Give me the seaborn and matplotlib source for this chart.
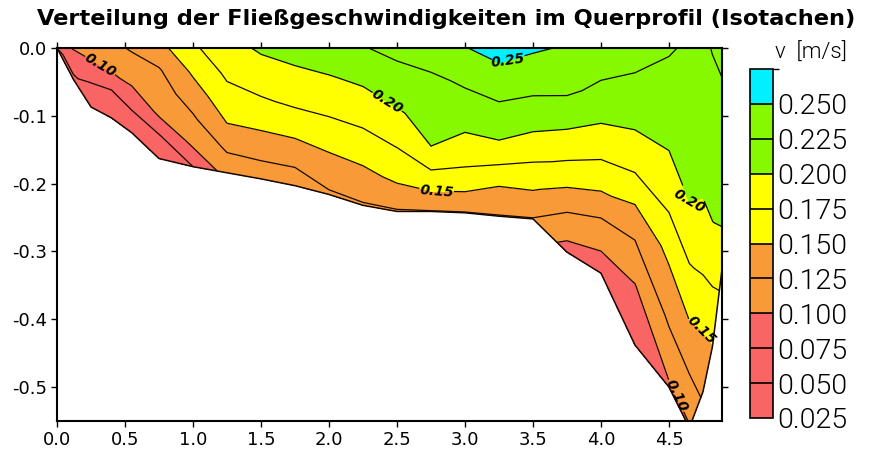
import numpy as np
import matplotlib
matplotlib.use("Agg")
import matplotlib.pyplot as plt
import seaborn as sns
from matplotlib.colors import ListedColormap, BoundaryNorm
from matplotlib.ticker import FixedLocator, FuncFormatter

# ---- data -----------------------------------------------------------------
# measuring verticals (distance from left bank, m) and water depth (m)
station_x = [0.0, 0.12, 0.25, 0.4, 0.55, 0.75, 1.0, 1.25, 1.5, 1.75, 2.0, 2.25,
             2.5, 2.75, 3.0, 3.25, 3.5, 3.75, 4.0, 4.25, 4.5, 4.65, 4.75, 4.82, 4.89]
station_depth = [0.0, 0.046, 0.087, 0.103, 0.125, 0.163, 0.175, 0.184, 0.193, 0.203,
                 0.216, 0.232, 0.241, 0.241, 0.243, 0.248, 0.252, 0.301, 0.332, 0.438,
                 0.50, 0.56, 0.507, 0.44, 0.326]
# relative depth of the measuring points (0 = surface, 1 = bed)
rel_depth = [0.0, 0.2, 0.4, 0.6, 0.8, 1.0]
# velocities (m/s) at each relative depth, one value per vertical
v_d00 = [0.085, 0.102, 0.108, 0.118, 0.128, 0.142, 0.171, 0.191, 0.2035, 0.210, 0.217, 0.2236,
         0.232, 0.240, 0.249, 0.260, 0.253, 0.248, 0.241, 0.234, 0.227, 0.222, 0.221, 0.226, 0.230]
v_d02 = [0.080, 0.0944, 0.100, 0.108, 0.1155, 0.1227, 0.1538, 0.1797, 0.189, 0.1944, 0.1985, 0.2041,
         0.2144, 0.2198, 0.2287, 0.2374, 0.2335, 0.230, 0.2187, 0.2124, 0.211, 0.2114, 0.2123, 0.2172, 0.2225]
v_d04 = [0.075, 0.0889, 0.0868, 0.0967, 0.1044, 0.113, 0.1373, 0.1659, 0.1725, 0.1786, 0.1818, 0.1857,
         0.1969, 0.2099, 0.2113, 0.2167, 0.2121, 0.1997, 0.1909, 0.1795, 0.1895, 0.2007, 0.2035, 0.2081, 0.2152]
v_d06 = [0.070, 0.0833, 0.0745, 0.075, 0.0857, 0.1033, 0.1212, 0.1503, 0.1533, 0.1568, 0.162, 0.1661,
         0.176, 0.200, 0.1911, 0.1941, 0.1852, 0.167, 0.1575, 0.133, 0.1553, 0.170, 0.1842, 0.1991, 0.208]
v_d08 = [0.065, 0.0778, 0.067, 0.067, 0.0697, 0.072, 0.106, 0.1285, 0.1316, 0.1326, 0.1407, 0.1444,
         0.1542, 0.1658, 0.1646, 0.1533, 0.1552, 0.1259, 0.1156, 0.0988, 0.1284, 0.1361, 0.1533, 0.175, 0.2007]
v_d10 = [0.060, 0.065, 0.060, 0.060, 0.060, 0.060, 0.075, 0.110, 0.110, 0.110, 0.122, 0.123,
         0.123, 0.124, 0.124, 0.124, 0.124, 0.090, 0.085, 0.085, 0.097, 0.098, 0.130, 0.149, 0.185]

levels = [0.025, 0.050, 0.075, 0.100, 0.125, 0.150, 0.175, 0.200, 0.225, 0.250, 0.275]
level_labels = ["0.025", "0.050", "0.075", "0.100", "0.125", "0.150", "0.175",
                "0.200", "0.225", "0.250"]
plain_levels = [0.050, 0.075, 0.125, 0.175, 0.225]
labelled_levels = [0.10, 0.15, 0.20, 0.25]
band_colors = ["#F96464", "#F96464", "#F96464", "#F99A38", "#F99A38",
               "#FFFF00", "#FFFF00", "#86F800", "#86F800", "#00F0FF"]
x_ticks = [0.0, 0.5, 1.0, 1.5, 2.0, 2.5, 3.0, 3.5, 4.0, 4.5]
y_ticks = [0.0, -0.1, -0.2, -0.3, -0.4, -0.5]
title = "Verteilung der Fließgeschwindigkeiten im Querprofil (Isotachen)"
unit_label = "v  [m/s]"

# ---- plotting --------------------------------------------------------------
sns.set_theme(style="ticks")
plt.rcParams["font.family"] = ["DejaVu Sans"]
plt.rcParams["axes.unicode_minus"] = False
for key in ["text.color", "axes.labelcolor", "xtick.color", "ytick.color",
            "xtick.labelcolor", "ytick.labelcolor"]:
    plt.rcParams[key] = "black"

fig = plt.figure(figsize=(8.76, 4.54), dpi=100)
ax = fig.add_axes([57 / 876, 1 - 421 / 454, 665 / 876, 373 / 454])

depth = np.array(station_depth)
X = np.tile(np.array(station_x), (len(rel_depth), 1))
Y = -np.outer(np.array(rel_depth), depth)
V = np.array([v_d00, v_d02, v_d04, v_d06, v_d08, v_d10])

cmap = ListedColormap(band_colors)
norm = BoundaryNorm(levels, cmap.N)
cf = ax.contourf(X, Y, V, levels=levels, cmap=cmap, norm=norm)
line_col = "#140800"
ax.contour(X, Y, V, levels=plain_levels, colors=line_col, linewidths=0.9)
cs_lab = ax.contour(X, Y, V, levels=labelled_levels, colors=line_col, linewidths=0.9)
ax.plot(station_x, -depth, color=line_col, lw=1.1)

label_pos = [(0.32, -0.025), (4.58, -0.51), (2.79, -0.219), (4.76, -0.414),
             (2.37, -0.099), (4.65, -0.246), (3.32, -0.021)]
texts = ax.clabel(cs_lab, fmt="%.2f", manual=label_pos,
                  fontsize=10, inline=True, inline_spacing=2)
for t in texts:
    t.set_fontweight("bold")
    t.set_fontstyle("italic")
    t.set_color("black")

ax.set_xlim(0, 4.89)
ax.set_ylim(-0.55, 0)
ax.xaxis.set_major_locator(FixedLocator(x_ticks))
ax.yaxis.set_major_locator(FixedLocator(y_ticks))
ax.xaxis.set_major_formatter(FuncFormatter(lambda v, p: f"{v:.1f}"))
ax.yaxis.set_major_formatter(FuncFormatter(lambda v, p: f"{v:.1f}"))
ax.tick_params(direction="out", length=4, width=1.0, colors="black",
               labelcolor="black", top=True, right=True, labelsize=13, pad=3)
for s in ax.spines.values():
    s.set_linewidth(1.5)
    s.set_color("black")
ax.set_facecolor("white")

cax = fig.add_axes([750 / 876, 1 - 418 / 454, 23 / 876, 349 / 454])
cb = fig.colorbar(cf, cax=cax, ticks=levels[:-1], drawedges=True)
cb.ax.set_yticklabels(level_labels)
cb.ax.tick_params(length=0, pad=3, labelcolor="black")
for t in cb.ax.get_yticklabels():
    t.set_fontfamily(["Roboto", "DejaVu Sans"])
    t.set_fontweight(300)
    t.set_fontsize(20.5)
cb.outline.set_linewidth(1.2)
cb.outline.set_edgecolor("black")
cb.dividers.set_color("black")
cb.dividers.set_linewidth(1.2)

fig.text(446 / 876, 1 - 19 / 454, title, ha="center", va="center",
         fontsize=16.2, fontweight="bold", color="black")
fig.text(811 / 876, 1 - 53 / 454, unit_label, ha="center", va="center",
         fontsize=16, fontweight=300, family=["Roboto", "DejaVu Sans"], color="black")

fig.savefig("out.png", dpi=100, facecolor="white")
